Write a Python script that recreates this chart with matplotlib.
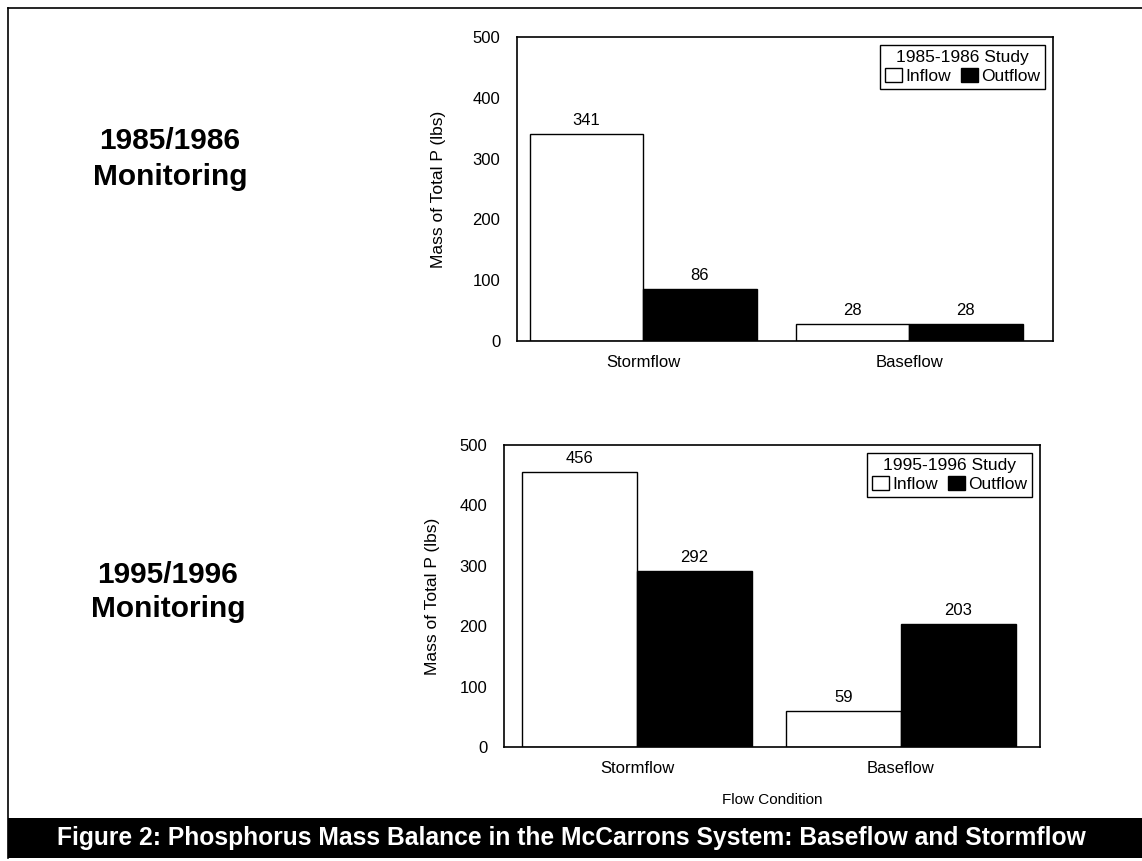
# Phosphorus mass balance, McCarrons system - two monitoring periods
import matplotlib.pyplot as plt
from matplotlib.patches import Rectangle, Patch
from matplotlib.lines import Line2D
import numpy as np

plt.rcParams['font.family'] = ['Liberation Sans', 'DejaVu Sans']

# data
categories = ['Stormflow', 'Baseflow']
inflow_8586 = [341, 28]
outflow_8586 = [86, 28]
inflow_9596 = [456, 59]
outflow_9596 = [292, 203]
yticks = [0, 100, 200, 300, 400, 500]
period_labels = ['1985/1986\nMonitoring', '1995/1996\nMonitoring']
legend_titles = ['1985-1986 Study', '1995-1996 Study']
caption = 'Figure 2: Phosphorus Mass Balance in the McCarrons System: Baseflow and Stormflow'

W, H = 1142, 861
fig = plt.figure(figsize=(W / 100, H / 100), dpi=100)


def px_box(left, top, right, bottom):
    # pixel box -> figure fraction [l, b, w, h]
    return [left / W, 1 - bottom / H, (right - left) / W, (bottom - top) / H]


def draw_panel(ax, inflow, outflow, width, xlim, title, show_xlabel, ypad):
    x = np.arange(len(categories))
    ax.bar(x - width / 2, inflow, width, color='white', edgecolor='black', linewidth=1.0, label='Inflow')
    ax.bar(x + width / 2, outflow, width, color='black', edgecolor='black', linewidth=1.0, label='Outflow')
    for xi, v in zip(x - width / 2, inflow):
        ax.text(xi, v + 10, str(v), ha='center', va='bottom', fontsize=12)
    for xi, v in zip(x + width / 2, outflow):
        ax.text(xi, v + 10, str(v), ha='center', va='bottom', fontsize=12)
    ax.set_xlim(*xlim)
    ax.set_ylim(0, 500)
    ax.set_yticks(yticks)
    ax.set_xticks(x)
    ax.set_xticklabels(categories)
    ax.tick_params(axis='both', length=0, labelsize=12, pad=12)
    ax.tick_params(axis='x', pad=10)
    ax.set_ylabel('Mass of Total P (lbs)', fontsize=12.5, labelpad=ypad)
    if show_xlabel:
        ax.set_xlabel('Flow Condition', fontsize=11, labelpad=12)
    for s in ax.spines.values():
        s.set_linewidth(1.2)
        s.set_color('black')
    handles = [Patch(facecolor='white', edgecolor='black', label='Inflow'),
               Patch(facecolor='black', edgecolor='black', label='Outflow')]
    leg = ax.legend(handles=handles, title=title, loc='upper right', ncol=2,
                    fontsize=12.5, title_fontsize=12.5, frameon=True, fancybox=False,
                    edgecolor='black', framealpha=1, borderaxespad=0.45,
                    handlelength=1.0, handleheight=0.8, handletextpad=0.15,
                    columnspacing=0.6, borderpad=0.3, labelspacing=0.2)
    leg.get_frame().set_linewidth(1.0)


ax1 = fig.add_axes(px_box(517, 37, 1053, 341))
draw_panel(ax1, inflow_8586, outflow_8586, 0.427, (-0.474, 1.541), legend_titles[0], False, 19)

ax2 = fig.add_axes(px_box(504, 445, 1040, 747))
draw_panel(ax2, inflow_9596, outflow_9596, 0.435, (-0.504, 1.527), legend_titles[1], True, 14)

# period labels on the left
fig.text(170 / W, 1 - 159 / H, period_labels[0], ha='center', va='center',
         fontsize=21.5, fontweight='bold', linespacing=1.36)
fig.text(168 / W, 1 - 592 / H, period_labels[1], ha='center', va='center',
         fontsize=21.5, fontweight='bold', linespacing=1.29)

# page frame
fig.add_artist(Line2D([8 / W, 1], [1 - 8 / H, 1 - 8 / H], color='black', lw=1.2, transform=fig.transFigure))
fig.add_artist(Line2D([8 / W, 8 / W], [1 - 8 / H, 1 - 858 / H], color='black', lw=1.2, transform=fig.transFigure))

# caption band
fig.add_artist(Rectangle((8 / W, 1 - 858 / H), 1 - 8 / W, 40 / H, facecolor='black',
                         edgecolor='none', transform=fig.transFigure))
fig.text(571 / W, 1 - 838 / H, caption, ha='center', va='center', color='white',
         fontsize=17.7, fontweight='bold')

fig.savefig('out.png', dpi=100)
